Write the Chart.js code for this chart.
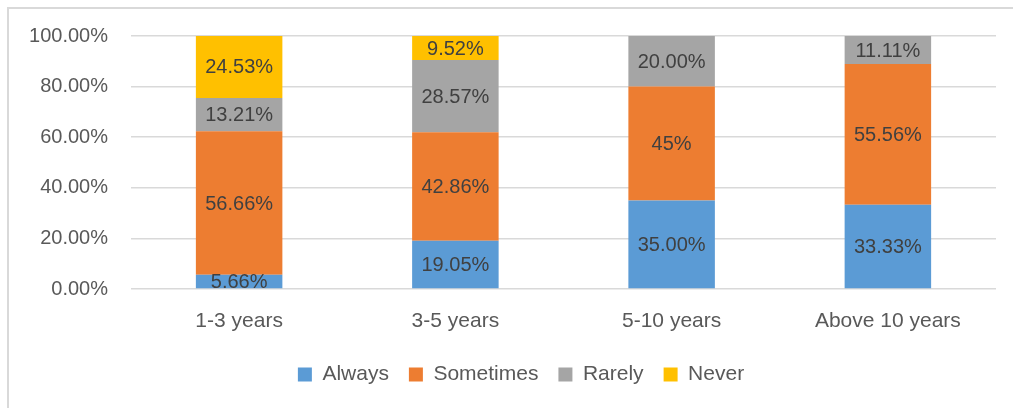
<!DOCTYPE html>
<html lang="en">
<head>
  <meta charset="UTF-8" />
  <title>Frequency by experience</title>
  <script src="https://cdn.jsdelivr.net/npm/chart.js"></script>
  <style>
    html, body { margin: 0; padding: 0; background: #fff; }
    #wrap { position: absolute; left: 0; top: 0; width: 1013px; height: 408px; }
  </style>
</head>
<body>
  <div id="wrap"><canvas id="chart" width="1013" height="408"></canvas></div>

  <script>
    const categories = ["1-3 years", "3-5 years", "5-10 years", "Above 10 years"];
    // values kept as text so each label prints exactly as given
    const always    = ["5.66", "19.05", "35.00", "33.33"];
    const sometimes = ["56.66", "42.86", "45", "55.56"];
    const rarely    = ["13.21", "28.57", "20.00", "11.11"];
    const never     = ["24.53", "9.52", null, null];
    const yTicks = [0, 20, 40, 60, 80, 100];

    const FONT = "'Liberation Sans', Arial, sans-serif";

    const toNum = arr => arr.map(v => v === null ? null : Number(v));

    // outer frame line (top and left edges are visible)
    const frame = {
      id: "frame",
      beforeDraw(chart) {
        const ctx = chart.ctx;
        ctx.save();
        ctx.strokeStyle = "#d9d9d9";
        ctx.lineWidth = 2;
        ctx.strokeRect(8, 8, chart.width + 20, chart.height + 20);
        ctx.restore();
      }
    };

    // nudge the legend so it sits centred under the plot like the original
    const legendShift = {
      id: "legendShift",
      afterLayout(chart) {
        const lg = chart.legend;
        if (!lg) return;
        lg.left += 18;
        lg.right += 18;
      }
    };

    // segment labels centred in each bar piece
    const segLabels = {
      id: "segLabels",
      afterDatasetsDraw(chart) {
        const ctx = chart.ctx;
        ctx.save();
        ctx.font = "20px " + FONT;
        ctx.fillStyle = "#404040";
        ctx.textAlign = "center";
        ctx.textBaseline = "middle";
        chart.data.datasets.forEach((ds, i) => {
          const meta = chart.getDatasetMeta(i);
          meta.data.forEach((bar, j) => {
            const raw = ds.rawText[j];
            if (raw === null) return;
            const y = (bar.y + bar.base) / 2;
            ctx.fillText(raw + "%", bar.x, y + 1);
          });
        });
        ctx.restore();
      }
    };

    const mk = (label, raw, color) => ({
      label,
      data: toNum(raw),
      rawText: raw,
      backgroundColor: color,
      borderWidth: 0,
      barPercentage: 0.4,
      categoryPercentage: 1
    });

    new Chart(document.getElementById("chart"), {
      type: "bar",
      data: {
        labels: categories,
        datasets: [
          mk("Always", always, "#5b9bd5"),
          mk("Sometimes", sometimes, "#ed7d31"),
          mk("Rarely", rarely, "#a5a5a5"),
          mk("Never", never, "#ffc000")
        ]
      },
      options: {
        responsive: false,
        animation: false,
        layout: { padding: { left: 10, right: 17, top: 36, bottom: 13 } },
        plugins: {
          tooltip: { enabled: false },
          legend: {
            position: "bottom",
            labels: {
              font: { family: FONT, size: 21 },
              color: "#595959",
              boxWidth: 14,
              boxHeight: 14,
              padding: 20
            }
          }
        },
        scales: {
          x: {
            stacked: true,
            grid: { display: false },
            border: { display: false },
            ticks: {
              font: { family: FONT, size: 21 },
              color: "#595959",
              padding: 12
            },
            afterFit(scale) { scale.height = 55; }
          },
          y: {
            stacked: true,
            min: 0,
            max: 100,
            afterBuildTicks(scale) {
              scale.ticks = yTicks.map(v => ({ value: v }));
            },
            grid: { color: "#d9d9d9", lineWidth: 1.5, drawTicks: false },
            border: { display: false },
            ticks: {
              font: { family: FONT, size: 20 },
              color: "#595959",
              padding: 23,
              callback: v => v.toFixed(2) + "%"
            },
            afterFit(scale) { scale.width = 121; }
          }
        }
      },
      plugins: [frame, legendShift, segLabels]
    });
  </script>
</body>
</html>
